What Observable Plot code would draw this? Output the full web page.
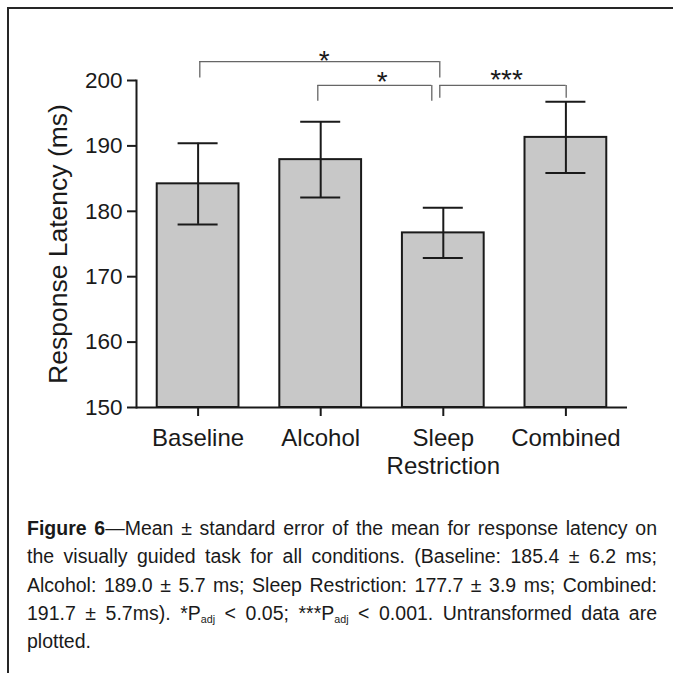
<!DOCTYPE html>
<html>
<head>
<meta charset="utf-8">
<script src="https://cdn.jsdelivr.net/npm/d3@7"></script>
<script src="https://cdn.jsdelivr.net/npm/@observablehq/plot@0.6"></script>
<style>
  html, body { margin: 0; padding: 0; width: 673px; height: 673px; overflow: hidden; background: #fff; }
  #box { position: absolute; left: 7px; top: 7px; width: 720px; height: 720px;
         border-left: 2px solid #262626; border-top: 2px solid #262626; }
  #chart { position: absolute; left: 0; top: 0; }
  #caption { position: absolute; left: 27px; top: 514px; width: 630px;
             font-family: "Liberation Sans", Arial, sans-serif; font-size: 19.5px; color: #1a1a1a; }
  #caption .ln { height: 28.25px; line-height: 28.25px; white-space: nowrap;
                 text-align: justify; text-align-last: justify; }
  #caption .ln.last { text-align-last: left; }
  #caption sub { font-size: 0.55em; vertical-align: -0.3em; line-height: 0; }
</style>
</head>
<body>
<div id="box"></div>
<div id="chart"></div>
<div id="caption">
  <div class="ln"><b>Figure 6</b>—Mean ± standard error of the mean for response latency on</div>
  <div class="ln">the visually guided task for all conditions. (Baseline: 185.4 ± 6.2 ms;</div>
  <div class="ln">Alcohol: 189.0 ± 5.7 ms; Sleep Restriction: 177.7 ± 3.9 ms; Combined:</div>
  <div class="ln">191.7 ± 5.7ms). *P<sub>adj</sub> &lt; 0.05; ***P<sub>adj</sub> &lt; 0.001. Untransformed data are</div>
  <div class="ln last">plotted.</div>
</div>
<script>
// ---- data ----
const categories = ["Baseline", "Alcohol", "Sleep Restriction", "Combined"];
const tickLabels = ["Baseline", "Alcohol", "Sleep\nRestriction", "Combined"];
const means = [184.2, 187.9, 176.7, 191.3];
const sem = [6.2, 5.8, 3.85, 5.45];
const yTicks = [150, 160, 170, 180, 190, 200];
const yLabel = "Response Latency (ms)";

// significance brackets
const bracketFrom = ["Baseline", "Alcohol", "Sleep Restriction"];
const bracketTo = ["Sleep Restriction", "Sleep Restriction", "Combined"];
const bracketTop = [202.9, 199.24, 199.24];
const bracketLeg = [200.38, 196.83, 197.29];
const bracketLabel = ["*", "*", "***"];
const bracketLabelY = [202.95, 199.75, 200.1];

// ---- layout / style ----
const W = 673, H = 480;
const mL = 136, mR = 46, mT = 80, mB = 73;
const pInner = 0.333, pOuter = 0.169;
const step = (W - mL - mR) / (categories.length - pInner + 2 * pOuter);
const bw = step * (1 - pInner);
const capInset = (bw - 40) / 2;
const ink = "#1a1a1a";
const bracketInk = "#666666";
// end nudges (px) for the bracket legs, and label nudges
const endNudge = [[1.7, -3.5], [-2.9, -11.5], [-3.5, 0.3]];
const labelNudge = [4.5, 7.5, 3.5];

const rows = categories.map((c, i) => ({cat: c, mean: means[i], se: sem[i]}));
const yDomain = [yTicks[0], yTicks[yTicks.length - 1]];

const bracketMarks = [];
bracketFrom.forEach((f, i) => {
  const b = [{from: f, to: bracketTo[i], top: bracketTop[i], leg: bracketLeg[i], label: bracketLabel[i], ly: bracketLabelY[i]}];
  const [nl, nr] = endNudge[i];
  const span = categories.indexOf(bracketTo[i]) - categories.indexOf(f);
  bracketMarks.push(
    Plot.ruleY(b, {y: "top", x1: "from", x2: "to", insetLeft: bw / 2 + nl, insetRight: bw / 2 - nr,
                   stroke: bracketInk, strokeWidth: 1.3}),
    Plot.ruleX(b, {x: "from", y1: "leg", y2: "top", dx: nl, stroke: bracketInk, strokeWidth: 1.3}),
    Plot.ruleX(b, {x: "to", y1: "leg", y2: "top", dx: nr, stroke: bracketInk, strokeWidth: 1.3}),
    Plot.text(b, {x: "from", y: "ly", text: "label", dx: span * step / 2 + (nl + nr) / 2 + labelNudge[i],
                  fontSize: 28, fill: ink})
  );
});

const chart = Plot.plot({
  width: W, height: H,
  marginLeft: mL, marginRight: mR, marginTop: mT, marginBottom: mB,
  style: {fontFamily: "'Liberation Sans', Arial, sans-serif", color: ink, background: "transparent", overflow: "visible"},
  x: {domain: categories, paddingInner: pInner, paddingOuter: pOuter, round: false, axis: null},
  y: {domain: yDomain, axis: null},
  marks: [
    Plot.barY(rows, {x: "cat", y1: yDomain[0], y2: "mean", fill: "#c8c8c8", stroke: ink, strokeWidth: 2}),
    Plot.ruleX(rows, {x: "cat", y1: d => d.mean - d.se, y2: d => d.mean + d.se, stroke: ink, strokeWidth: 2}),
    Plot.tickY(rows, {x: "cat", y: d => d.mean + d.se, inset: capInset, stroke: ink, strokeWidth: 2}),
    Plot.tickY(rows, {x: "cat", y: d => d.mean - d.se, inset: capInset, stroke: ink, strokeWidth: 2}),
    Plot.ruleY([yDomain[0]], {stroke: ink, strokeWidth: 2}),
    Plot.frame({anchor: "left", stroke: ink, strokeWidth: 2}),
    Plot.axisY({ticks: yTicks, tickSize: 9, tickPadding: 5, fontSize: 22.5, label: null, stroke: ink, strokeWidth: 2, tickFormat: d => String(d)}),
    Plot.axisX({tickSize: 9, tickPadding: 10, fontSize: 24, label: null, stroke: ink, strokeWidth: 2, lineHeight: 1.15,
                tickFormat: d => tickLabels[categories.indexOf(d)]}),
    Plot.text([yLabel], {frameAnchor: "left", textAnchor: "middle", rotate: -90, dx: -77.5, fontSize: 26.5, fill: ink}),
    ...bracketMarks
  ]
});
document.getElementById("chart").appendChild(chart);
</script>
</body>
</html>
